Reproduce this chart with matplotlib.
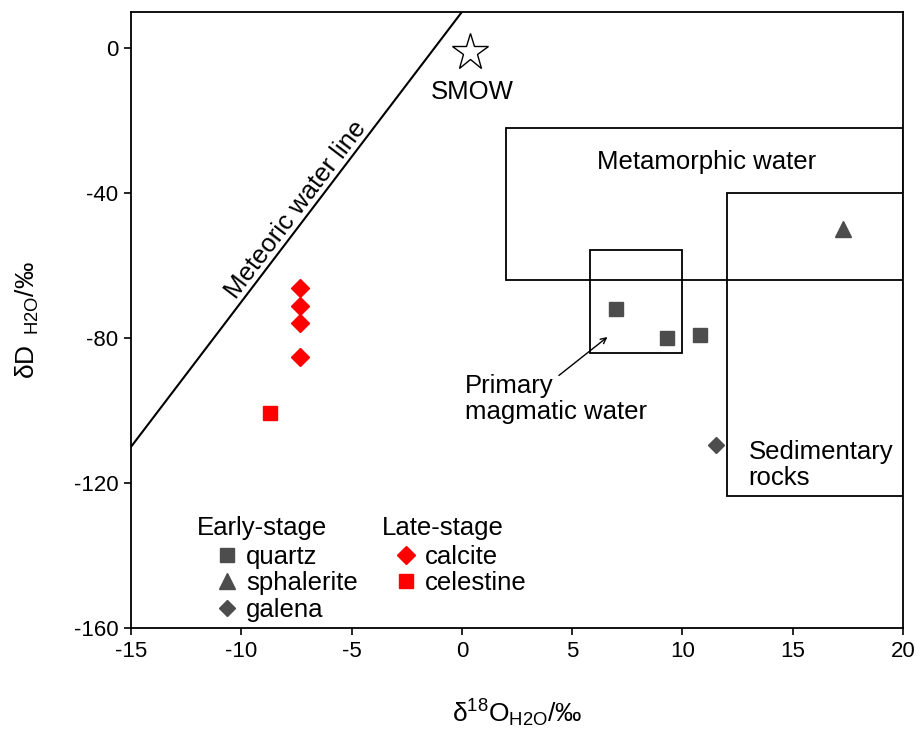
import matplotlib
matplotlib.use("Agg")
import matplotlib.pyplot as plt
from matplotlib.patches import Rectangle

plt.rcParams['font.family'] = ['Liberation Sans', 'DejaVu Sans']
plt.rcParams['mathtext.fontset'] = 'custom'
plt.rcParams['mathtext.rm'] = 'Liberation Sans'
plt.rcParams['mathtext.it'] = 'Liberation Sans'
plt.rcParams['axes.unicode_minus'] = False

# Early-stage minerals
quartz_x = [7.0, 9.3, 10.8]
quartz_y = [-72.0, -80.0, -79.2]
sphalerite_x = [17.3]
sphalerite_y = [-50.0]
galena_x = [11.5]
galena_y = [-109.5]

# Late-stage minerals
calcite_x = [-7.35, -7.35, -7.35, -7.35]
calcite_y = [-66.2, -71.2, -75.9, -85.2]
celestine_x = [-8.7]
celestine_y = [-100.7]

# Reference water
smow_x = [0.35]
smow_y = [-1.0]

# Meteoric water line: dD = 8 * d18O + 10
mwl_x = [-15.0, 0.0]
mwl_y = [8 * v + 10 for v in mwl_x]

# Field boxes: (x0, x1, y0, y1)
metamorphic_box = (2.0, 20.0, -64.0, -22.0)
magmatic_box = (5.8, 10.0, -84.0, -55.7)
sedimentary_box = (12.0, 20.0, -123.5, -40.0)

x_ticks = [-15, -10, -5, 0, 5, 10, 15, 20]
y_ticks = [0, -40, -80, -120, -160]

gray = '#4d4d4d'
red = '#ff0000'
fs = 18.5

fig = plt.figure(figsize=(9.22, 7.30), dpi=100)
ax = fig.add_axes([0.1421, 0.1397, 0.8373, 0.8439])
ax.set_xlim(-15, 20)
ax.set_ylim(-160, 10)

for (x0, x1, y0, y1) in (metamorphic_box, magmatic_box, sedimentary_box):
    ax.add_patch(Rectangle((x0, y0), x1 - x0, y1 - y0, fill=False,
                           edgecolor='black', linewidth=1.3, zorder=2))

ax.plot(mwl_x, mwl_y, color='black', linewidth=1.5, zorder=2)

ax.plot(smow_x, smow_y, linestyle='none', marker='*', markersize=28,
        markerfacecolor='white', markeredgecolor='black', markeredgewidth=1.0,
        zorder=3)

h_q, = ax.plot(quartz_x, quartz_y, 's', color=gray, markersize=10, linestyle='none', zorder=4)
h_s, = ax.plot(sphalerite_x, sphalerite_y, '^', color=gray, markersize=11, linestyle='none', zorder=4)
h_g, = ax.plot(galena_x, galena_y, 'D', color=gray, markersize=8.5, linestyle='none', zorder=4)
h_c, = ax.plot(calcite_x, calcite_y, 'D', color=red, markersize=9.5, linestyle='none', zorder=4)
h_ce, = ax.plot(celestine_x, celestine_y, 's', color=red, markersize=10.5, linestyle='none', zorder=4)

# Field labels
ax.text(0.45, -12.0, 'SMOW', fontsize=fs, ha='center', va='center')
ax.text(11.1, -31.4, 'Metamorphic water', fontsize=fs, ha='center', va='center')
ax.text(13.0, -115.0, 'Sedimentary\nrocks', fontsize=fs, ha='left', va='center',
        linespacing=1.15)
ax.text(0.15, -96.8, 'Primary\nmagmatic water', fontsize=fs, ha='left', va='center',
        linespacing=1.15)
ax.annotate('', xy=(6.6, -79.7), xytext=(4.4, -90.3),
            arrowprops=dict(arrowstyle='->', color='black', lw=1.0,
                            shrinkA=0, shrinkB=0))
ax.text(-7.5, -44.5, 'Meteoric water line', fontsize=fs, ha='center', va='center',
        rotation=52.7, rotation_mode='anchor')

# Legends: group headings with indented entries below
ax.text(0.085, 0.162, 'Early-stage', transform=ax.transAxes, fontsize=fs,
        ha='left', va='center')
ax.text(0.325, 0.162, 'Late-stage', transform=ax.transAxes, fontsize=fs,
        ha='left', va='center')
leg_kw = dict(loc='upper left', frameon=False, fontsize=fs,
              handlelength=0.9, handletextpad=0.3,
              labelspacing=0.1, borderpad=0.0, borderaxespad=0.0)
leg1 = ax.legend([h_q, h_s, h_g], ['quartz', 'sphalerite', 'galena'],
                 bbox_to_anchor=(0.109, 0.135), **leg_kw)
ax.add_artist(leg1)
ax.legend([h_c, h_ce], ['calcite', 'celestine'],
          bbox_to_anchor=(0.341, 0.135), **leg_kw)

ax.set_xticks(x_ticks)
ax.set_yticks(y_ticks)
ax.tick_params(direction='out', length=5, width=1.2, labelsize=16,
               top=False, right=False, pad=4)
for sp in ax.spines.values():
    sp.set_linewidth(1.3)

ax.set_xlabel(r'$\mathrm{δ^{18}O_{H2O}}$/‰', fontsize=19, labelpad=26)
ax.set_ylabel(r'$\mathrm{δD_{\ \ H2O}}$/‰', fontsize=19, labelpad=24)

fig.savefig('out.png', dpi=100)
